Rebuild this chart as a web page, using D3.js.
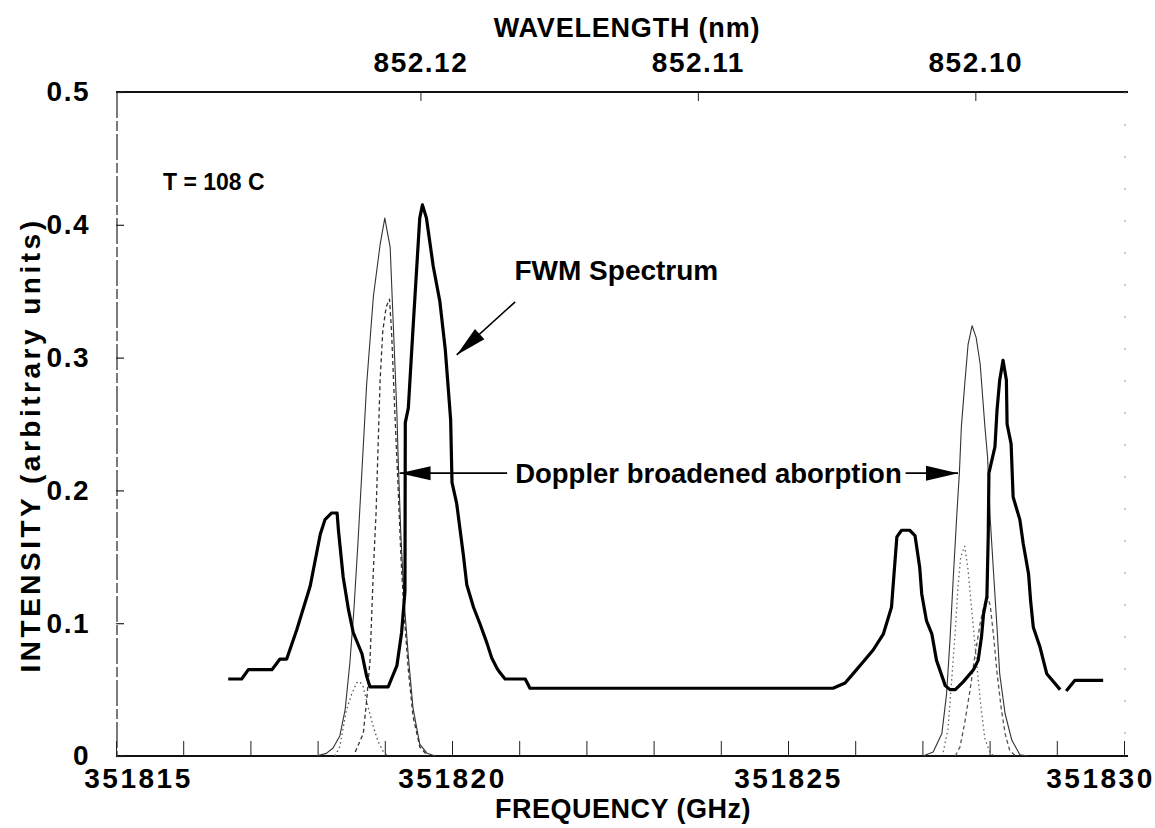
<!DOCTYPE html>
<html><head><meta charset="utf-8">
<script src="https://cdn.jsdelivr.net/npm/d3@7"></script>
<style>
html,body{margin:0;padding:0;background:#fff;}
svg text{font-family:"Liberation Sans",Arial,Helvetica,sans-serif;font-weight:bold;fill:#000;}
</style></head><body>
<svg id="chart" width="1155" height="828"></svg>
<script>
// ---- data (frequency in GHz, intensity in arbitrary units) ----
const freqTicks = [351815,351816,351817,351818,351819,351820,351821,351822,351823,351824,351825,351826,351827,351828,351829,351830];
const freqLabels = [351815,351820,351825,351830];
const wavelengthTicks = [852.12, 852.11, 852.10];
const intensityTicks = [0, 0.1, 0.2, 0.3, 0.4, 0.5];

const fwmFreq = [351816.67,351816.87,351816.97,351817.32,351817.44,351817.54,351817.69,351817.89,351818.04,351818.11,351818.21,351818.29,351818.31,351818.38,351818.46,351818.53,351818.66,351818.73,351818.78,351819.05,351819.18,351819.25,351819.30,351819.305,351819.35,351819.42,351819.52,351819.56,351819.62,351819.72,351819.82,351819.90,351819.95,351819.98,351820.00,351820.07,351820.17,351820.22,351820.32,351820.42,351820.52,351820.59,351820.67,351820.71,351820.79,351821.09,351821.16,351825.67,351825.85,351825.97,351826.12,351826.27,351826.42,351826.54,351826.57,351826.62,351826.69,351826.81,351826.89,351826.96,351826.99,351827.06,351827.14,351827.21,351827.34,351827.41,351827.49,351827.61,351827.76,351827.83,351827.88,351827.91,351827.96,351827.98,351827.99,351828.08,351828.11,351828.15,351828.20,351828.25,351828.26,351828.32,351828.35,351828.45,351828.50,351828.58,351828.61,351828.65,351828.75,351828.85,351829.05,351829.10,351829.14,351829.27,351829.69];
const fwmIntensity = [0.058,0.058,0.065,0.065,0.073,0.073,0.095,0.128,0.167,0.178,0.183,0.183,0.170,0.135,0.110,0.093,0.077,0.060,0.052,0.052,0.068,0.093,0.124,0.251,0.262,0.322,0.405,0.415,0.405,0.369,0.342,0.306,0.273,0.253,0.206,0.190,0.151,0.129,0.112,0.099,0.085,0.074,0.066,0.063,0.058,0.058,0.051,0.051,0.055,0.062,0.071,0.080,0.092,0.112,0.132,0.165,0.170,0.170,0.166,0.142,0.122,0.102,0.092,0.072,0.053,0.050,0.050,0.056,0.065,0.072,0.090,0.107,0.120,0.167,0.213,0.233,0.260,0.283,0.298,0.283,0.250,0.235,0.195,0.178,0.160,0.137,0.117,0.097,0.082,0.062,0.050,null,0.049,0.057,0.057];

const absLeftFreq = [351817.98,351818.13,351818.23,351818.33,351818.41,351818.48,351818.54,351818.60,351818.66,351818.73,351818.83,351818.93,351819.00,351819.08,351819.13,351819.18,351819.20,351819.24,351819.29,351819.35,351819.42,351819.52,351819.63,351819.75];
const absLeftIntensity = [0,0.002,0.006,0.015,0.035,0.07,0.11,0.16,0.215,0.28,0.346,0.385,0.405,0.383,0.32,0.258,0.222,0.165,0.115,0.075,0.036,0.009,0.002,0];

const absRightFreq = [351827.01,351827.16,351827.29,351827.36,351827.41,351827.46,351827.51,351827.55,351827.58,351827.63,351827.68,351827.74,351827.80,351827.86,351827.93,351827.97,351828.01,351828.06,351828.11,351828.15,351828.23,351828.33,351828.45,351828.57];
const absRightIntensity = [0,0.003,0.017,0.047,0.087,0.135,0.18,0.213,0.248,0.28,0.31,0.324,0.315,0.295,0.248,0.225,0.178,0.137,0.097,0.062,0.032,0.012,0.001,0];

const dashLeftFreq = [351818.56,351818.68,351818.73,351818.78,351818.83,351818.87,351818.90,351818.93,351818.97,351819.02,351819.07,351819.10,351819.15,351819.20,351819.24,351819.29,351819.35,351819.42,351819.52,351819.64];
const dashLeftIntensity = [0.003,0.017,0.042,0.072,0.14,0.183,0.233,0.283,0.32,0.338,0.344,0.32,0.258,0.2,0.15,0.105,0.065,0.03,0.007,0];

const dotLeftFreq = [351818.26,351818.33,351818.43,351818.51,351818.58,351818.63,351818.68,351818.75,351818.83,351818.90,351818.98,351819.05];
const dotLeftIntensity = [0,0.007,0.035,0.047,0.055,0.056,0.052,0.037,0.022,0.011,0.003,0];

const dotRightFreq = [351827.31,351827.38,351827.44,351827.49,351827.53,351827.57,351827.63,351827.68,351827.73,351827.78,351827.83,351827.88,351827.93,351828.01,351828.08];
const dotRightIntensity = [0.003,0.02,0.06,0.095,0.128,0.15,0.158,0.14,0.112,0.085,0.058,0.033,0.013,0.002,0];

const dashRightFreq = [351827.49,351827.56,351827.63,351827.71,351827.78,351827.86,351827.92,351827.97,351828.01,351828.06,351828.11,351828.17,351828.23,351828.30,351828.39];
const dashRightIntensity = [0,0.007,0.025,0.05,0.075,0.1,0.114,0.12,0.113,0.09,0.063,0.037,0.017,0.004,0];

// ---- layout ----
const svg = d3.select("#chart");
const mLeft = 116, mRight = 1124, mTop = 92, mBottom = 756;
const x = d3.scaleLinear().domain([351815, 351830]).range([mLeft, mRight]);
const y = d3.scaleLinear().domain([0, 0.5]).range([mBottom, mTop]);
const C = 299792458; // nm*GHz
const toFreq = lam => C / lam;

const zip = (xs, ys) => xs.map((f, i) => ({f, v: ys[i]}));
const line = d3.line().defined(d => d.v !== null).x(d => x(d.f)).y(d => y(d.v));

// frame
svg.append("line").attr("x1", mLeft).attr("x2", mRight + 4).attr("y1", mTop).attr("y2", mTop)
  .attr("stroke", "#111").attr("stroke-width", 2);
svg.append("line").attr("x1", mLeft).attr("x2", mRight + 4).attr("y1", mBottom).attr("y2", mBottom)
  .attr("stroke", "#111").attr("stroke-width", 2);
svg.append("line").attr("x1", mLeft + 1).attr("x2", mLeft + 1).attr("y1", mTop).attr("y2", mBottom)
  .attr("stroke", "#444").attr("stroke-width", 1.4).attr("stroke-dasharray", "26,3,10,3");
svg.append("line").attr("x1", mRight + 1).attr("x2", mRight + 1).attr("y1", mTop).attr("y2", mBottom)
  .attr("stroke", "#999").attr("stroke-width", 1).attr("stroke-dasharray", "2,30");

// bottom axis
const gx = svg.append("g").attr("transform", `translate(0,${mBottom})`)
  .call(d3.axisBottom(x).tickValues(freqTicks).tickSizeInner(-15).tickSizeOuter(0).tickPadding(12)
    .tickFormat(d => freqLabels.includes(d) ? String(d) : ""));
gx.select(".domain").remove();
gx.selectAll(".tick line").attr("stroke", "#222").attr("stroke-width", 1);
gx.selectAll(".tick text").attr("font-size", 28).attr("letter-spacing", 2.5).attr("fill", "#000")
  .attr("dx", d => d === 351815 ? 22 : d === 351830 ? -24 : 0);

// left axis
const gy = svg.append("g").attr("transform", `translate(${mLeft},0)`)
  .call(d3.axisLeft(y).tickValues(intensityTicks).tickSizeInner(-8).tickSizeOuter(0).tickPadding(26)
    .tickFormat(d => d === 0 ? "0" : d3.format(".1f")(d)));
gy.select(".domain").remove();
gy.selectAll(".tick line").attr("stroke", "#222").attr("stroke-width", 1.2);
gy.selectAll(".tick text").attr("font-size", 28).attr("letter-spacing", 1.5).attr("fill", "#000");

// top axis (wavelength)
const gt = svg.append("g").attr("transform", `translate(0,${mTop})`)
  .call(d3.axisTop(x).tickValues(wavelengthTicks.map(toFreq)).tickSizeInner(-9).tickSizeOuter(0).tickPadding(20)
    .tickFormat((d, i) => wavelengthTicks[i].toFixed(2)));
gt.select(".domain").remove();
gt.selectAll(".tick line").attr("stroke", "#222").attr("stroke-width", 1);
gt.selectAll(".tick text").attr("font-size", 28).attr("letter-spacing", 1.5).attr("fill", "#000");

// axis titles
svg.append("text").attr("x", 627).attr("y", 37).attr("text-anchor", "middle")
  .attr("font-size", 27).attr("letter-spacing", 0.8).text("WAVELENGTH (nm)");
svg.append("text").attr("x", 623).attr("y", 818).attr("text-anchor", "middle")
  .attr("font-size", 27).attr("letter-spacing", 0.5).text("FREQUENCY (GHz)");
svg.append("text").attr("transform", "translate(40,445) rotate(-90)").attr("text-anchor", "middle")
  .attr("font-size", 28).attr("letter-spacing", 3.5).text("INTENSITY (arbitrary units)");

// curves
const curves = [
  {f: absLeftFreq, v: absLeftIntensity, stroke: "#333", w: 1.1, dash: null},
  {f: absRightFreq, v: absRightIntensity, stroke: "#333", w: 1.1, dash: null},
  {f: dashLeftFreq, v: dashLeftIntensity, stroke: "#333", w: 1.3, dash: "4,3"},
  {f: dashRightFreq, v: dashRightIntensity, stroke: "#555", w: 1.3, dash: "4,3"},
  {f: dotLeftFreq, v: dotLeftIntensity, stroke: "#555", w: 1.3, dash: "1.5,3"},
  {f: dotRightFreq, v: dotRightIntensity, stroke: "#666", w: 1.3, dash: "1.5,3"},
  {f: fwmFreq, v: fwmIntensity, stroke: "#000", w: 3.2, dash: null}
];
curves.forEach(c => {
  svg.append("path").datum(zip(c.f, c.v)).attr("d", line).attr("fill", "none")
    .attr("stroke", c.stroke).attr("stroke-width", c.w).attr("stroke-linejoin", "round")
    .attr("stroke-dasharray", c.dash);
});

// annotations
function arrow(x1, y1, x2, y2, len, half, w) {
  svg.append("line").attr("x1", x1).attr("y1", y1).attr("x2", x2).attr("y2", y2)
    .attr("stroke", "#000").attr("stroke-width", w);
  const a = Math.atan2(y2 - y1, x2 - x1);
  const bx = x2 - len * Math.cos(a), by = y2 - len * Math.sin(a);
  const px = -Math.sin(a) * half, py = Math.cos(a) * half;
  svg.append("path").attr("d", `M${x2},${y2}L${bx + px},${by + py}L${bx - px},${by - py}Z`).attr("fill", "#000");
}
svg.append("text").attr("x", 163).attr("y", y(0.432) + 8).attr("font-size", 23).text("T = 108 C");
svg.append("text").attr("x", x(351820.93)).attr("y", y(0.366) + 10).attr("font-size", 28).text("FWM Spectrum");
arrow(x(351820.94), y(0.342), x(351820.07), y(0.302), 31, 7, 1.6);
svg.append("text").attr("x", x(351820.94)).attr("y", y(0.213) + 10).attr("font-size", 27.5).text("Doppler broadened aborption");
arrow(x(351820.82), y(0.213), x(351819.22), y(0.213), 31, 7, 1.6);
arrow(x(351826.75), y(0.213), x(351827.53), y(0.213), 32, 7.5, 1.6);
</script>
</body></html>
